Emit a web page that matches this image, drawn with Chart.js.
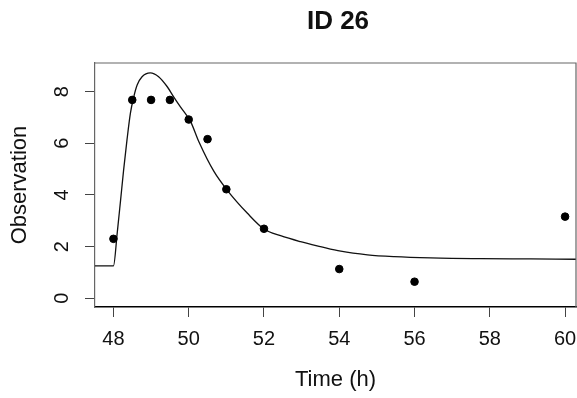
<!DOCTYPE html>
<html lang="en">
<head>
    <meta charset="UTF-8">
    <title>ID 26</title>
    <script src="https://cdn.jsdelivr.net/npm/chart.js"></script>
    <style>
        body { margin: 0; background: #ffffff; }
        .wrap { width: 577px; height: 398px; overflow: hidden; }
    </style>
</head>
<body>
    <div class="wrap">
        <canvas id="fit-chart" width="581" height="398"></canvas>
    </div>
    <script>
        // observed concentrations
        const obsTime = [48, 48.5, 49, 49.5, 50, 50.5, 51, 52, 54, 56, 60];
        const obsValue = [2.3, 7.68, 7.68, 7.68, 6.92, 6.16, 4.22, 2.69, 1.13, 0.64, 3.16];

        // fitted curve
        const fitTime = [47.51, 48.0, 48.1, 48.19, 48.27, 48.36, 48.45, 48.54, 48.63, 48.76, 48.98,
                         49.2, 49.43, 49.6, 49.78, 50.05, 50.27, 50.67, 51.02, 51.56, 52.0,
                         52.44, 52.97, 53.5, 54.04, 54.75, 55.46, 56.43, 57.76, 59.09, 60.29];
        const fitValue = [1.25, 1.25, 2.52, 3.8, 4.96, 6.13, 7.16, 7.8, 8.26, 8.58, 8.73,
                          8.58, 8.19, 7.8, 7.41, 6.84, 6.06, 4.91, 4.19, 3.29, 2.68,
                          2.42, 2.19, 2.0, 1.82, 1.68, 1.61, 1.56, 1.53, 1.52, 1.51];

        const xTicks = [48, 50, 52, 54, 56, 58, 60];
        const yTicks = [0, 2, 4, 6, 8];

        const fontFamily = '"Liberation Sans", Arial, sans-serif';

        // top and right sides of the plot box, title centred over the plot
        const boxPlugin = {
            id: 'box',
            afterLayout(chart) {
                const a = chart.chartArea;
                chart.titleBlock.left = a.left;
                chart.titleBlock.right = a.right + 5;
            },
            afterDatasetsDraw(chart) {
                const a = chart.chartArea;
                const ctx = chart.ctx;
                ctx.save();
                ctx.strokeStyle = '#666';
                ctx.lineWidth = 1.2;
                ctx.beginPath();
                ctx.moveTo(a.left, a.top);
                ctx.lineTo(a.right, a.top);
                ctx.lineTo(a.right, a.bottom);
                ctx.stroke();
                ctx.restore();
            }
        };

        const ctx = document.getElementById('fit-chart').getContext('2d');
        new Chart(ctx, {
            type: 'scatter',
            data: {
                datasets: [
                    {
                        label: 'Observed',
                        data: obsTime.map((t, i) => ({ x: t, y: obsValue[i] })),
                        backgroundColor: '#000',
                        borderColor: '#000',
                        pointRadius: 3.8,
                        showLine: false,
                        order: 1
                    },
                    {
                        label: 'Fit',
                        data: fitTime.map((t, i) => ({ x: t, y: fitValue[i] })),
                        showLine: true,
                        borderColor: '#111',
                        borderWidth: 1.3,
                        pointRadius: 0,
                        cubicInterpolationMode: 'monotone',
                        order: 2
                    }
                ]
            },
            options: {
                responsive: false,
                animation: false,
                layout: { padding: { left: 0, right: 1, top: 0, bottom: 0 } },
                plugins: {
                    legend: { display: false },
                    tooltip: { enabled: false },
                    title: {
                        display: true,
                        text: 'ID 26',
                        color: '#111',
                        font: { family: fontFamily, size: 26, weight: 'bold' },
                        padding: { top: 6, bottom: 25.8 }
                    }
                },
                scales: {
                    x: {
                        type: 'linear',
                        min: 47.51,
                        max: 60.29,
                        afterBuildTicks: s => { s.ticks = xTicks.map(v => ({ value: v })); },
                        afterFit: s => { s.height = 91; s.paddingLeft = 0; s.paddingRight = 0; },
                        ticks: {
                            color: '#111',
                            padding: 10,
                            font: { family: fontFamily, size: 20 }
                        },
                        grid: { drawOnChartArea: false, drawTicks: true, tickLength: 10, color: '#444' },
                        border: { display: true, color: '#000', width: 1.6 },
                        title: {
                            display: true,
                            text: 'Time (h)',
                            color: '#111',
                            font: { family: fontFamily, size: 22 },
                            padding: { top: 0, bottom: 5 }
                        }
                    },
                    y: {
                        type: 'linear',
                        min: -0.34,
                        max: 9.11,
                        afterBuildTicks: s => { s.ticks = yTicks.map(v => ({ value: v })); },
                        afterFit: s => { s.width = 95; s.paddingTop = 0; s.paddingBottom = 0; },
                        ticks: {
                            color: '#111',
                            padding: 17,
                            minRotation: 90,
                            maxRotation: 90,
                            crossAlign: 'center',
                            font: { family: fontFamily, size: 20 }
                        },
                        grid: { drawOnChartArea: false, drawTicks: true, tickLength: 10, color: '#444' },
                        border: { display: true, color: '#666', width: 1.2 },
                        title: {
                            display: true,
                            text: 'Observation',
                            color: '#111',
                            font: { family: fontFamily, size: 22 },
                            padding: { top: 7, bottom: 0 }
                        }
                    }
                }
            },
            plugins: [boxPlugin]
        });
    </script>
</body>
</html>
